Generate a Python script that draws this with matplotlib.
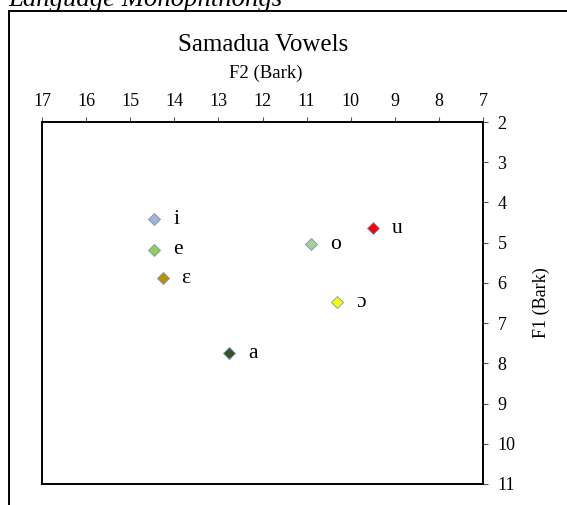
import matplotlib
matplotlib.use("Agg")
import matplotlib.pyplot as plt
from matplotlib.lines import Line2D

plt.rcParams["font.family"] = ["Liberation Serif", "DejaVu Serif"]

# vowel data (Bark)
vowels = ["i", "e", "ɛ", "a", "o", "u", "ɔ"]
f2 = [14.45, 14.45, 14.26, 12.75, 10.90, 9.49, 10.30]
f1 = [4.42, 5.18, 5.89, 7.75, 5.04, 4.64, 6.48]
colors = ["#A5B4D0", "#92D050", "#BF8F00", "#375623", "#A9D18E", "#FF0000", "#FFFF00"]

x_ticks = list(range(7, 18))
y_ticks = list(range(2, 12))

fig = plt.figure(figsize=(5.67, 5.05), dpi=100)
ax = fig.add_axes([0.0741, 0.0416, 0.7778, 0.7168])

for v, x, y, c in zip(vowels, f2, f1, colors):
    ax.plot(x, y, marker="D", ms=6.5, color=c, mec="#7090D0", mew=0.6, ls="none")
    ax.annotate(v, (x, y), xytext=(13.5, 0), textcoords="offset points",
                va="center", ha="left", fontsize=15.5)

ax.set_xlim(17, 7)
ax.set_ylim(11, 2)
ax.set_xticks(x_ticks)
ax.set_yticks(y_ticks)
ax.xaxis.tick_top()
ax.yaxis.tick_right()
ax.tick_params(axis="both", direction="out", length=3.5, width=0.8,
               labelsize=13, color="#555555")
ax.tick_params(axis="x", pad=5)
ax.tick_params(axis="y", pad=7)
for s in ax.spines.values():
    s.set_linewidth(1.4)
    s.set_color("black")

ax.set_ylabel("F1 (Bark)", fontsize=13)
ax.yaxis.set_label_position("right")
ax.yaxis.labelpad = 12

fig.text(0.464, 1 - 45 / 505, "Samadua Vowels", ha="center", va="center", fontsize=18)
fig.text(266 / 567, 1 - 73 / 505, "F2 (Bark)", ha="center", va="center", fontsize=13.5)

# caption cut off at the top and outer frame
fig.text(8 / 567, 1 - 6.5 / 505, "Language Monophthongs", ha="left", va="baseline",
         fontsize=19.3, style="italic")
fig.add_artist(Line2D([9 / 567, 9 / 567], [0, 1 - 11 / 505], color="black", lw=1.4))
fig.add_artist(Line2D([9 / 567, 1], [1 - 11 / 505, 1 - 11 / 505], color="black", lw=1.4))

fig.savefig("out.png", dpi=100)
